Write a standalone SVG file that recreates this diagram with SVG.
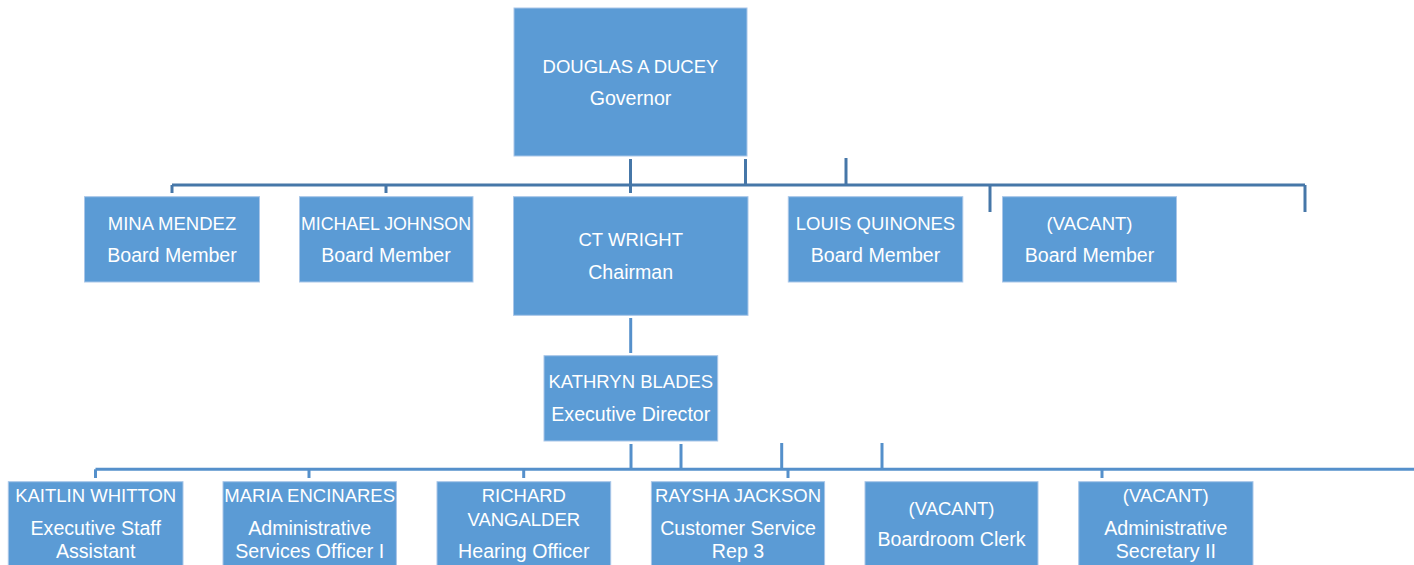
<svg xmlns="http://www.w3.org/2000/svg" width="1414" height="565" viewBox="0 0 1414 565">
<style>
  .box { fill: #5B9BD5; stroke: #A9C6E8; stroke-width: 1; }
  .t { fill: #FFFFFF; font-family: "Liberation Sans", Arial, sans-serif; font-size: 18.5px; text-anchor: middle; }
  .s { font-size: 19.6px; }
  .c1 { stroke: #4677A8; stroke-width: 3; fill: none; }
  .c2 { stroke: #5590CB; stroke-width: 3; fill: none; }
</style>
<rect width="1414" height="565" fill="#FFFFFF"/>
<g id="connectors">
  <line class="c1" x1="172" y1="185" x2="1305" y2="185"/>
  <line class="c1" x1="172" y1="185" x2="172" y2="193"/>
  <line class="c1" x1="386" y1="185" x2="386" y2="193"/>
  <line class="c1" x1="630.5" y1="159" x2="630.5" y2="193"/>
  <line class="c1" x1="745.5" y1="159" x2="745.5" y2="185"/>
  <line class="c1" x1="846" y1="158" x2="846" y2="185"/>
  <line class="c1" x1="990" y1="185" x2="990" y2="212"/>
  <line class="c1" x1="1305" y1="185" x2="1305" y2="212"/>
  <line class="c2" x1="630.7" y1="318" x2="630.7" y2="353"/>
  <line class="c2" x1="95.5" y1="469.3" x2="1414" y2="469.3"/>
  <line class="c2" x1="95.5" y1="469.3" x2="95.5" y2="478"/>
  <line class="c2" x1="309" y1="469.3" x2="309" y2="478"/>
  <line class="c2" x1="523.7" y1="469.3" x2="523.7" y2="478"/>
  <line class="c2" x1="788" y1="469.3" x2="788" y2="478"/>
  <line class="c2" x1="1102" y1="469.3" x2="1102" y2="478"/>
  <line class="c2" x1="631" y1="444" x2="631" y2="470"/>
  <line class="c2" x1="681" y1="444" x2="681" y2="469.3"/>
  <line class="c2" x1="781.7" y1="443" x2="781.7" y2="469.3"/>
  <line class="c2" x1="882" y1="443" x2="882" y2="469.3"/>
</g>
<g id="governor">
  <rect class="box" x="514" y="8" width="233" height="148"/>
  <text class="t" x="630.5" y="72.5">DOUGLAS A DUCEY</text>
  <text class="t s" x="630.5" y="105">Governor</text>
</g>
<g id="mina">
  <rect class="box" x="84.5" y="196.7" width="175" height="85.3"/>
  <text class="t" x="172" y="229.5">MINA MENDEZ</text>
  <text class="t s" x="172" y="262">Board Member</text>
</g>
<g id="michael">
  <rect class="box" x="299.5" y="196.7" width="173.5" height="85.3"/>
  <text class="t" x="386" y="229.5" textLength="170" lengthAdjust="spacingAndGlyphs">MICHAEL JOHNSON</text>
  <text class="t s" x="386" y="262">Board Member</text>
</g>
<g id="ctwright">
  <rect class="box" x="513.5" y="196.7" width="234.5" height="118.6"/>
  <text class="t" x="630.7" y="246">CT WRIGHT</text>
  <text class="t s" x="630.7" y="278.5">Chairman</text>
</g>
<g id="louis">
  <rect class="box" x="788.3" y="196.7" width="174.5" height="85.3"/>
  <text class="t" x="875.5" y="229.5">LOUIS QUINONES</text>
  <text class="t s" x="875.5" y="262">Board Member</text>
</g>
<g id="vacant-board">
  <rect class="box" x="1002.5" y="196.7" width="174" height="85.3"/>
  <text class="t" x="1089.5" y="229.5">(VACANT)</text>
  <text class="t s" x="1089.5" y="262">Board Member</text>
</g>
<g id="kathryn">
  <rect class="box" x="544" y="355.7" width="173.7" height="85.3"/>
  <text class="t" x="630.8" y="388">KATHRYN BLADES</text>
  <text class="t s" x="630.8" y="421">Executive Director</text>
</g>
<g id="kaitlin">
  <rect class="box" x="8.3" y="481.7" width="174.7" height="90"/>
  <text class="t" x="95.7" y="502.3">KAITLIN WHITTON</text>
  <text class="t s" x="95.7" y="535">Executive Staff</text>
  <text class="t s" x="95.7" y="557.7">Assistant</text>
</g>
<g id="maria">
  <rect class="box" x="223" y="481.7" width="173.4" height="90"/>
  <text class="t" x="309.7" y="502.3">MARIA ENCINARES</text>
  <text class="t s" x="309.7" y="535">Administrative</text>
  <text class="t s" x="309.7" y="557.7">Services Officer I</text>
</g>
<g id="richard">
  <rect class="box" x="437" y="481.7" width="173.7" height="90"/>
  <text class="t" x="523.8" y="502.3">RICHARD</text>
  <text class="t" x="523.8" y="526">VANGALDER</text>
  <text class="t s" x="523.8" y="557.7">Hearing Officer</text>
</g>
<g id="raysha">
  <rect class="box" x="651.4" y="481.7" width="173.2" height="90"/>
  <text class="t" x="738" y="502.3">RAYSHA JACKSON</text>
  <text class="t s" x="738" y="535">Customer Service</text>
  <text class="t s" x="738" y="557.7">Rep 3</text>
</g>
<g id="vacant-clerk">
  <rect class="box" x="865" y="481.7" width="173" height="90"/>
  <text class="t" x="951.5" y="515.3">(VACANT)</text>
  <text class="t s" x="951.5" y="546">Boardroom Clerk</text>
</g>
<g id="vacant-secretary">
  <rect class="box" x="1078.7" y="481.7" width="174.3" height="90"/>
  <text class="t" x="1165.8" y="502.3">(VACANT)</text>
  <text class="t s" x="1165.8" y="535">Administrative</text>
  <text class="t s" x="1165.8" y="557.7">Secretary II</text>
</g>
</svg>
